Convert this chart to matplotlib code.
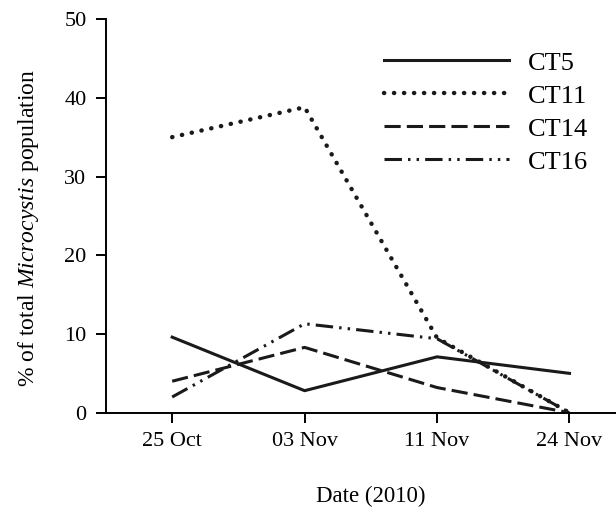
import numpy as np
import matplotlib
matplotlib.use('Agg')
import matplotlib.pyplot as plt

plt.rcParams['font.family'] = ['Liberation Serif', 'DejaVu Serif']
plt.rcParams['mathtext.fontset'] = 'custom'
plt.rcParams['mathtext.rm'] = 'Liberation Serif'
plt.rcParams['mathtext.it'] = 'Liberation Serif:italic'

dates = ['25 Oct', '03 Nov', '11 Nov', '24 Nov']
ct5 = [9.6, 2.8, 7.1, 5.0]
ct11 = [35.0, 38.8, 9.5, 0.0]
ct14 = [4.0, 8.3, 3.2, 0.0]
ct16 = [2.0, 11.3, 9.4, 0.0]

fig = plt.figure(figsize=(6.16, 5.14), dpi=100)
ax = fig.add_axes([0.172, 0.197, 0.86, 0.766])

x = np.arange(len(dates))
lw = 2.2
c = '#1a1a1a'
ax.plot(x, ct5, color=c, lw=lw, ls='-', label='CT5')
ax.plot(x, ct11, color=c, lw=3.2, ls=(0, (0.05, 2.2)),
        dash_capstyle='round', label='CT11')
ax.plot(x, ct14, color=c, lw=lw, ls=(0, (5.3, 2)), label='CT14')
ax.plot(x, ct16, color=c, lw=lw, ls=(0, (5.7, 2, 0.8, 2, 0.8, 2)),
        label='CT16')

ax.set_xlim(-0.5, 3.5)
ax.set_ylim(0, 50)
ax.set_xticks(x)
ax.set_xticklabels(dates)
ax.set_yticks([0, 10, 20, 30, 40, 50])
ax.spines['top'].set_visible(False)
ax.spines['right'].set_visible(False)
for s in ['left', 'bottom']:
    ax.spines[s].set_linewidth(1.4)
ax.tick_params(direction='out', length=7, width=1.4, labelsize=16, pad=7)

ax.set_xlabel('Date (2010)', fontsize=16.5, labelpad=25)
ax.set_ylabel('% of total $\\mathit{Microcystis}$ population', fontsize=17,
              labelpad=17, y=0.47)

ax.legend(loc='upper left', bbox_to_anchor=(0.500, 0.952), frameon=False,
          borderpad=0, fontsize=19, handlelength=4.74, handletextpad=0.72,
          labelspacing=0.36)

fig.savefig('out.png', dpi=100)
